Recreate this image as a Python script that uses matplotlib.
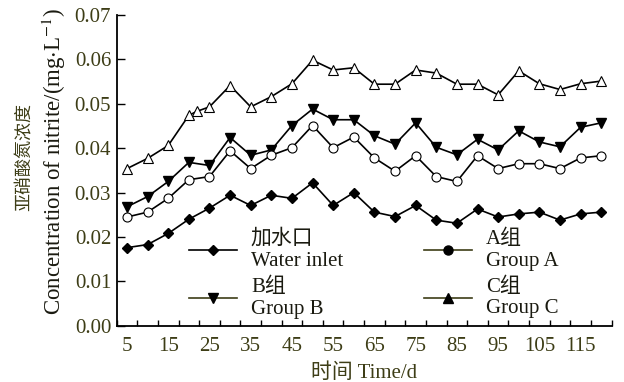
import numpy as np
import matplotlib
matplotlib.use("Agg")
import matplotlib.pyplot as plt
from matplotlib.lines import Line2D

plt.rcParams['font.family'] = ['Liberation Serif', 'Noto Sans CJK SC']
plt.rcParams['mathtext.fontset'] = 'stix'

OLIVE = '#3d3d16'
FS = 15

# sampling days
days = [5, 10, 15, 20, 25, 30, 35, 40, 45, 50, 55, 60, 65, 70, 75, 80,
        85, 90, 95, 100, 105, 110, 115, 120]
days_c = [5, 10, 15, 20, 22, 25, 30, 35, 40, 45, 50, 55, 60, 65, 70, 75, 80,
          85, 90, 95, 100, 105, 110, 115, 120]

# nitrite concentration, mg/L
inlet = [0.0176, 0.0183, 0.0208, 0.0240, 0.0265, 0.0294, 0.0271, 0.0294,
         0.0287, 0.0322, 0.0271, 0.0300, 0.0256, 0.0246, 0.0271, 0.0238,
         0.0231, 0.0263, 0.0245, 0.0252, 0.0256, 0.0238, 0.0252, 0.0256]
group_a = [0.0245, 0.0256, 0.0287, 0.0329, 0.0336, 0.0394, 0.0354, 0.0384,
           0.0401, 0.0451, 0.0401, 0.0425, 0.0378, 0.0348, 0.0383, 0.0336,
           0.0325, 0.0383, 0.0354, 0.0365, 0.0365, 0.0354, 0.0378, 0.0383]
group_b = [0.0268, 0.0291, 0.0325, 0.0368, 0.0361, 0.0424, 0.0384, 0.0396,
           0.0451, 0.0488, 0.0464, 0.0464, 0.0428, 0.0409, 0.0457, 0.0402,
           0.0385, 0.0420, 0.0396, 0.0439, 0.0414, 0.0403, 0.0447, 0.0457]
group_c = [0.0354, 0.0377, 0.0406, 0.0474, 0.0483, 0.0493, 0.0541, 0.0493,
           0.0516, 0.0545, 0.0598, 0.0576, 0.0581, 0.0544, 0.0544, 0.0576,
           0.0569, 0.0544, 0.0544, 0.0520, 0.0574, 0.0545, 0.0532, 0.0545,
           0.0551]

fig = plt.figure(figsize=(6.24, 3.82), dpi=100)
ax = fig.add_axes([0.187, 0.147, 0.793, 0.814])

ax.plot(days_c, group_c, color='black', lw=1.2, marker='^', ms=7.5,
        mfc='white', mec='black', mew=0.8, zorder=3)
ax.plot(days, group_b, color='black', lw=1.2, marker='v', ms=7,
        mfc='black', mec='black', zorder=3)
ax.plot(days, group_a, color='black', lw=1.2, marker='o', ms=6.5,
        mfc='white', mec='black', mew=0.8, zorder=3)
ax.plot(days, inlet, color='black', lw=1.2, marker='D', ms=5.5,
        mfc='black', mec='black', zorder=3)

ax.set_xlim(2.5, 122.5)
ax.set_ylim(0, 0.07)
ax.set_xticks(np.arange(5, 120, 10))
ax.set_xticks(np.arange(2.5, 123, 5), minor=True)
ax.set_yticks(np.arange(0, 0.071, 0.01))
ax.yaxis.set_major_formatter(matplotlib.ticker.FormatStrFormatter('%.2f'))
ax.tick_params(axis='x', which='major', length=0, pad=8)
ax.tick_params(axis='x', which='minor', direction='in', length=4, width=1)
ax.tick_params(axis='y', direction='in', length=6, width=1, pad=4)
ax.tick_params(labelsize=FS, labelcolor=OLIVE)

for s in ['top', 'right']:
    ax.spines[s].set_visible(False)
for s in ['left', 'bottom']:
    ax.spines[s].set_linewidth(1.3)

ax.set_xlabel('时间 Time/d', fontsize=FS, color=OLIVE, labelpad=5)
# y label: English line next to the axis, Chinese line further out
ax.set_ylabel('Concentration of nitrite/(mg$\\cdot$L$^{-1}$)',
              fontsize=16.5, color='#1a1a10')
ax.yaxis.set_label_coords(-0.099, 0.53)
fig.text(0.041, 0.588, '亚硝酸氮浓度', rotation=90, fontsize=13,
         color=OLIVE, ha='center', va='center')

handles = [
    Line2D([], [], color='black', lw=1.2, marker='D', ms=5.5, mfc='black'),
    Line2D([], [], color=OLIVE, lw=1.2, marker='v', ms=7, mfc='black', mec='black'),
    Line2D([], [], color=OLIVE, lw=1.2, marker='o', ms=6.5, mfc='black', mec='black'),
    Line2D([], [], color=OLIVE, lw=1.2, marker='^', ms=7, mfc='black', mec='black'),
]
labels = ['加水口\nWater inlet', 'B组\nGroup B', 'A组\nGroup A', 'C组\nGroup C']
leg = ax.legend(handles, labels, ncol=2, frameon=False, fontsize=FS,
                handlelength=2.3, columnspacing=3.9, labelspacing=0.32,
                handletextpad=0.65, borderpad=0, loc='lower left',
                bbox_to_anchor=(0.126, -0.01))
for t in leg.get_texts():
    t.set_color('#1a1a10')
    t.set_linespacing(1.2)

fig.savefig('out.png', dpi=100)
